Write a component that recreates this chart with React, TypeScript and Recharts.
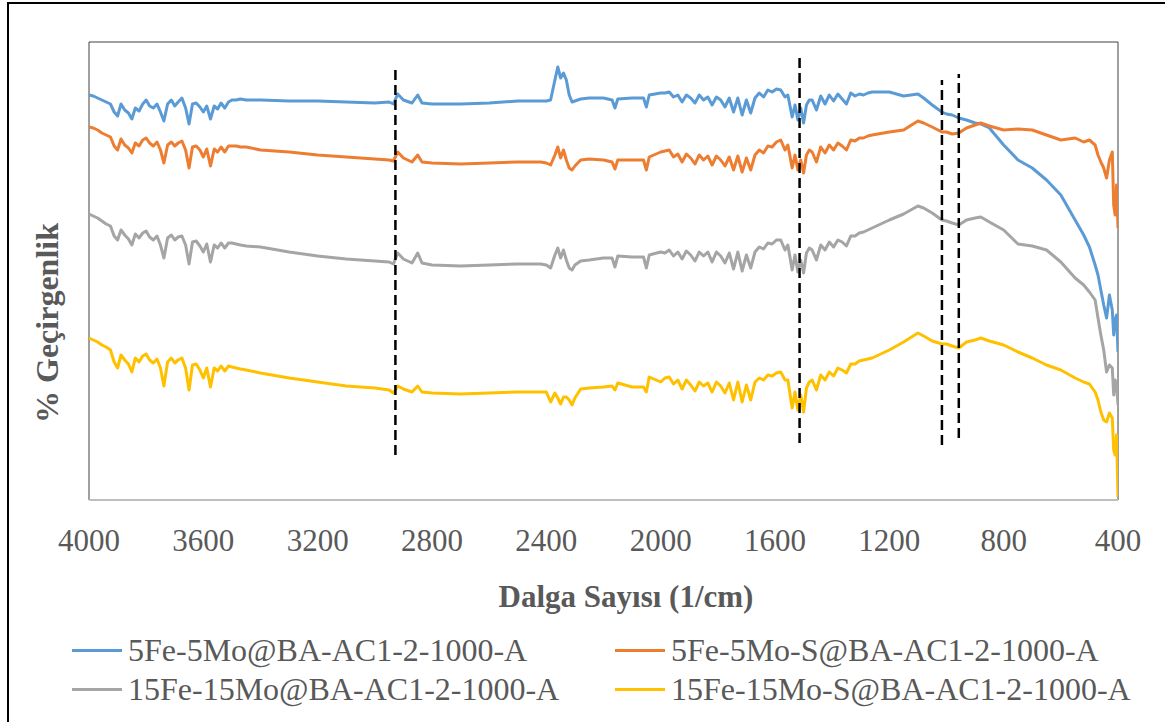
import React from 'react';
import { LineChart, Line, XAxis, YAxis, ReferenceLine, ReferenceArea } from 'recharts';

// Wavenumber grid (1/cm), shared by all four spectra
const wavenumbers = [
  4000, 3985, 3970, 3955, 3940, 3925, 3912, 3900, 3888, 3875, 3862, 3850, 3838, 3825, 3812, 3800, 3788, 3775, 3762, 3750, 3738, 3725,
  3712, 3700, 3688, 3675, 3662, 3650, 3638, 3625, 3612, 3600, 3588, 3575, 3562, 3550, 3538, 3525, 3512, 3500, 3485, 3470, 3450,
  3400, 3300, 3200, 3100, 3000, 2950, 2935, 2920, 2900, 2870, 2850, 2835, 2800, 2700, 2600, 2500, 2420,
  2400, 2385, 2370, 2360, 2350, 2340, 2330, 2320, 2310, 2300, 2280, 2250, 2200,
  2170, 2160, 2150, 2100, 2060, 2050, 2040, 2000,
  1985, 1970, 1955, 1940, 1925, 1910, 1895, 1880, 1865, 1850, 1835, 1820, 1805, 1790, 1775, 1760, 1745, 1730, 1715, 1700,
  1685, 1670, 1655, 1640, 1625, 1610, 1595, 1580, 1565,
  1555, 1540, 1530, 1520, 1510, 1500, 1490, 1480,
  1470, 1455, 1440, 1425, 1410, 1395, 1380, 1365, 1350, 1335, 1320, 1305, 1290, 1275, 1260,
  1200, 1150, 1100, 1080, 1050, 1016, 1000, 980, 957, 930, 900, 880, 850, 800, 750, 700, 650, 600, 550, 520, 500,
  480, 470, 460, 450, 440, 430, 420, 415, 410, 405, 400,
];

// Offset transmittance (arbitrary units), one array per sample
const fe5mo5 = [
  405, 404, 402, 400, 398, 396, 388, 384, 396, 390, 387, 381, 392, 389, 396, 400, 394, 392, 396, 388, 379, 396,
  400, 394, 398, 402, 392, 376, 396, 397, 393, 388, 394, 381, 394, 391, 397, 392, 398, 400, 400, 401, 400,
  400, 399, 399, 398, 397, 398, 396, 406, 400, 397, 405, 397, 396, 396, 397, 399, 399,
  399, 400, 420, 433, 422, 427, 420, 405, 398, 399, 401, 402, 402,
  400, 392, 401, 402, 402, 393, 405, 407,
  407, 408, 403, 405, 398, 405, 402, 397, 405, 400, 403, 395, 403, 400, 393, 402, 388, 402, 385, 400,
  387, 402, 407, 403, 410, 408, 411, 410, 403,
  405, 383, 395, 380, 392, 377, 395, 400,
  400, 390, 404, 396, 405, 399, 406, 401, 396, 407, 404, 406, 405, 407, 408,
  408, 404, 406, 402, 395, 388, 386, 385, 382, 380, 377, 376, 372, 355, 340, 332, 320, 305, 280, 265, 253,
  235, 225, 210, 195, 182, 205, 190, 165, 180, 185, 148,
];

const fe5mo5S = [
  373, 372, 370, 367, 365, 363, 354, 350, 361, 355, 352, 347, 357, 354, 360, 362, 357, 354, 358, 350, 337, 355,
  358, 354, 357, 359, 350, 332, 353, 354, 350, 343, 351, 334, 351, 348, 353, 348, 354, 354, 354, 353, 353,
  350, 348, 345, 343, 341, 340, 339, 348, 342, 338, 345, 338, 337, 336, 337, 338, 338,
  337, 335, 345, 353, 342, 350, 340, 332, 330, 334, 340, 341, 340,
  338, 331, 340, 340, 340, 330, 343, 348,
  349, 350, 343, 346, 338, 346, 342, 336, 345, 340, 344, 335, 344, 340, 334, 343, 330, 344, 328, 342,
  330, 345, 350, 347, 354, 353, 358, 360, 350,
  355, 332, 345, 330, 340, 327, 345, 350,
  348, 338, 353, 347, 355, 350, 357, 354, 350, 360, 359, 362, 362, 364, 365,
  368, 370, 379, 377, 373, 368, 368, 366, 367, 372, 375, 377, 374, 370, 371, 370, 365, 360, 362, 358, 360,
  355, 345, 338, 332, 322, 340, 348, 295, 285, 315, 272,
];

const fe15mo15 = [
  286, 284, 282, 279, 276, 274, 264, 260, 270, 265, 261, 255, 266, 262, 267, 269, 263, 260, 264, 255, 242, 262,
  265, 260, 263, 264, 255, 236, 258, 259, 254, 248, 256, 238, 255, 252, 257, 252, 257, 257, 256, 255, 254,
  253, 248, 244, 241, 239, 238, 236, 247, 241, 237, 247, 237, 235, 234, 235, 236, 236,
  235, 232, 245, 252, 242, 250, 240, 232, 230, 235, 239, 240, 242,
  242, 233, 244, 243, 243, 232, 245, 248,
  247, 250, 244, 248, 241, 249, 245, 239, 248, 244, 248, 238, 248, 244, 237, 247, 231, 248, 229, 245,
  232, 248, 253, 251, 257, 256, 260, 260, 250,
  255, 230, 245, 228, 240, 227, 247, 252,
  250, 240, 255, 250, 258, 253, 260, 258, 254, 264, 264, 267, 268, 270, 272,
  280, 286, 294, 292, 287, 280, 279, 277, 275, 280, 282, 283, 278, 270, 256, 254, 250, 238, 222, 215, 208,
  200, 182, 165, 150, 128, 135, 132, 105, 120, 115, 95,
];

const fe15mo15S = [
  162, 160, 158, 155, 153, 150, 138, 132, 145, 140, 136, 128, 142, 138, 144, 146, 140, 137, 141, 132, 114, 138,
  142, 137, 140, 142, 132, 110, 135, 136, 130, 122, 132, 113, 132, 129, 134, 129, 134, 133, 132, 131, 130,
  127, 122, 118, 114, 112, 110, 107, 114, 111, 108, 114, 108, 107, 106, 107, 108, 108,
  108, 98, 107, 102, 96, 103, 103, 100, 95, 102, 111, 112, 113,
  114, 110, 117, 113, 113, 108, 123, 118,
  122, 123, 116, 120, 111, 120, 115, 109, 118, 114, 117, 108, 118, 114, 107, 117, 100, 118, 98, 115,
  100, 118, 122, 120, 125, 124, 127, 128, 120,
  120, 92, 108, 90, 105, 88, 112, 118,
  120, 110, 125, 120, 128, 124, 132, 130, 127, 136, 136, 139, 140, 141, 142,
  150, 158, 167, 164, 159, 156, 156, 154, 152, 158, 160, 162, 159, 155, 148, 142, 135, 130, 122, 118, 116,
  108, 100, 88, 80, 78, 87, 82, 50, 45, 65, 3,
];

const xTicks = [4000, 3600, 3200, 2800, 2400, 2000, 1600, 1200, 800, 400];

// Marked bands: wavenumber and vertical extent of each dashed guide
const bandMarkers = [
  { wn: 2928, from: 45, to: 430 },
  { wn: 1514, from: 57, to: 442 },
  { wn: 1016, from: 55, to: 420 },
  { wn: 957, from: 62, to: 426 },
];

const series = [
  { key: 'a', name: '5Fe-5Mo@BA-AC1-2-1000-A', color: '#5B9BD5', values: fe5mo5 },
  { key: 'b', name: '5Fe-5Mo-S@BA-AC1-2-1000-A', color: '#ED7D31', values: fe5mo5S },
  { key: 'c', name: '15Fe-15Mo@BA-AC1-2-1000-A', color: '#A5A5A5', values: fe15mo15 },
  { key: 'd', name: '15Fe-15Mo-S@BA-AC1-2-1000-A', color: '#FFC000', values: fe15mo15S },
];

const data = wavenumbers.map((wn, i) => {
  const row: Record<string, number> = { wn };
  series.forEach((s) => {
    row[s.key] = s.values[i];
  });
  return row;
});

const FONT = "'Times New Roman', 'Liberation Serif', Tinos, serif";
const TEXT = '#595959';

const Tick = (props: any) => {
  const { x, y, payload } = props;
  return (
    <text x={x} y={y + 51} textAnchor="middle" fontFamily={FONT} fontSize={31} fill={TEXT}>
      {payload.value}
    </text>
  );
};

const legendPos = [
  { left: 72, top: 650 },
  { left: 615, top: 650 },
  { left: 72, top: 689 },
  { left: 615, top: 689 },
];

export default function App() {
  return (
    <div style={{ position: 'absolute', left: 0, top: 0, width: 1165, height: 722, background: '#fff', overflow: 'hidden' }}>
      <div
        style={{
          position: 'absolute',
          left: 7,
          top: 2,
          width: 1200,
          height: 760,
          border: '2.5px solid #000',
          boxSizing: 'border-box',
        }}
      />
      <div style={{ position: 'absolute', left: 0, top: 0 }}>
        <LineChart width={1165} height={722} data={data} margin={{ top: 42, right: 47, left: 89, bottom: 162 }}>
          <ReferenceArea x1={4000} x2={400} y1={0} y2={458} fill="none" stroke="#404040" strokeWidth={1} ifOverflow="visible" />
          <XAxis
            type="number"
            dataKey="wn"
            domain={[400, 4000]}
            reversed
            ticks={xTicks}
            interval={0}
            tickLine={false}
            tickSize={0}
            tickMargin={0}
            height={60}
            axisLine={{ stroke: '#BFBFBF', strokeWidth: 2 }}
            tick={<Tick />}
            allowDataOverflow
          />
          <YAxis hide type="number" domain={[0, 458]} allowDataOverflow />
          {series.map((s) => (
            <Line
              key={s.key}
              type="linear"
              dataKey={s.key}
              name={s.name}
              stroke={s.color}
              strokeWidth={3}
              strokeLinejoin="round"
              dot={false}
              activeDot={false}
              isAnimationActive={false}
            />
          ))}
          {bandMarkers.map((m) => (
            <ReferenceLine
              key={m.wn}
              segment={[
                { x: m.wn, y: m.from },
                { x: m.wn, y: m.to },
              ]}
              stroke="#000"
              strokeWidth={2.5}
              strokeDasharray="10 5"
              ifOverflow="visible"
            />
          ))}
        </LineChart>
      </div>
      <div
        style={{
          position: 'absolute',
          left: 47,
          top: 323,
          transform: 'translate(-50%, -50%) rotate(-90deg)',
          whiteSpace: 'nowrap',
          fontFamily: FONT,
          fontWeight: 'bold',
          fontSize: 32,
          color: TEXT,
          lineHeight: 1,
        }}
      >
        % Geçirgenlik
      </div>
      <div
        style={{
          position: 'absolute',
          left: 626,
          top: 596,
          transform: 'translate(-50%, -50%)',
          whiteSpace: 'nowrap',
          fontFamily: FONT,
          fontWeight: 'bold',
          fontSize: 31,
          color: TEXT,
          lineHeight: 1,
        }}
      >
        Dalga Sayısı (1/cm)
      </div>
      {series.map((s, i) => (
        <div
          key={s.key}
          style={{
            position: 'absolute',
            left: legendPos[i].left,
            top: legendPos[i].top,
            transform: 'translateY(-50%)',
            display: 'flex',
            alignItems: 'center',
            whiteSpace: 'nowrap',
            fontFamily: FONT,
            fontSize: 32,
            color: TEXT,
            lineHeight: 1,
          }}
        >
          <span style={{ display: 'inline-block', width: 50, height: 3, background: s.color, marginRight: 6 }} />
          <span>{s.name}</span>
        </div>
      ))}
    </div>
  );
}
